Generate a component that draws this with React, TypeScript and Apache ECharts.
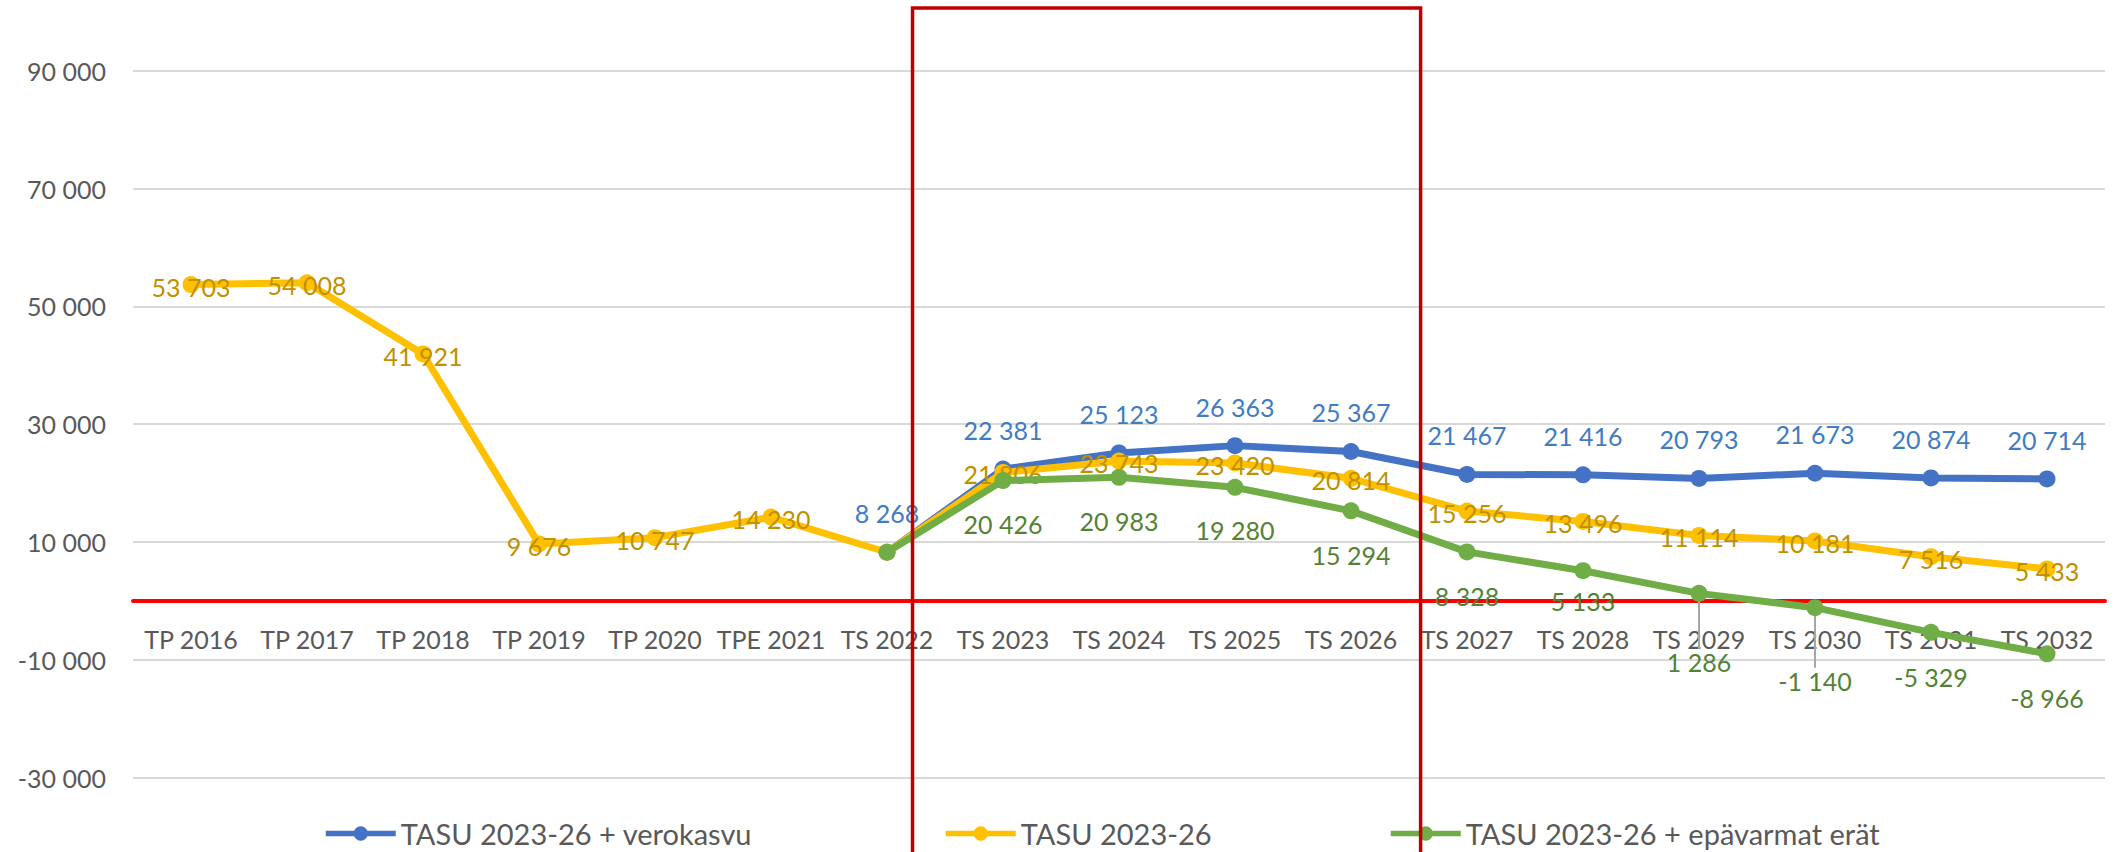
import React, { useEffect, useRef } from "react";
import * as echarts from "echarts";

const categories = [
  "TP 2016", "TP 2017", "TP 2018", "TP 2019", "TP 2020", "TPE 2021", "TS 2022",
  "TS 2023", "TS 2024", "TS 2025", "TS 2026", "TS 2027", "TS 2028", "TS 2029",
  "TS 2030", "TS 2031", "TS 2032",
];
const seriesNames = ["TASU 2023-26 + verokasvu", "TASU 2023-26", "TASU 2023-26 + epävarmat erät"];
const verokasvu = [null, null, null, null, null, null, 8268, 22381, 25123, 26363, 25367, 21467, 21416, 20793, 21673, 20874, 20714];
const tasu = [53703, 54008, 41921, 9676, 10747, 14230, 8268, 21806, 23743, 23420, 20814, 15256, 13496, 11114, 10181, 7516, 5433];
const epavarmat = [null, null, null, null, null, null, 8268, 20426, 20983, 19280, 15294, 8328, 5133, 1286, -1140, -5329, -8966];
const yMin = -30000;
const yMax = 90000;
const yInterval = 20000;

// label layout (pixel offsets of label centre from the point)
const blueLabelDy = -39;
const yellowLabelDy = 2;
const yellowHiddenLabels = [6];
const greenLabelDy = [0, 0, 0, 0, 0, 0, null, 43, 44, 43, 44, 44, 30, 69, 73, 45, 44];
const greenLeaderIdx = [13, 14];

const COLORS = ["#4472C4", "#FFC000", "#70AD47"];
const LABEL_COLORS = ["#3F7CC2", "#BF9000", "#548235"];
const FONT = "Lato, 'Open Sans', sans-serif";

const GRID = { left: 133, right: 13, top: 70.7, bottom: 74.3 };
const CHART_H = 852;

function fmt(v: number): string {
  const s = Math.abs(Math.round(v)).toString().replace(/\B(?=(\d{3})+(?!\d))/g, " ");
  return (v < 0 ? "-" : "") + s;
}

export default function App() {
  const ref = useRef<HTMLDivElement>(null);
  useEffect(() => {
    document.body.style.margin = "0";
    const el = ref.current!;
    const chart = echarts.init(el, undefined, { renderer: "svg" });

    const labelBase = {
      show: true,
      position: "inside" as const,
      fontSize: 25,
      fontFamily: FONT,
      formatter: (p: any) => fmt(p.value),
    };

    const blueData = verokasvu.map((v) =>
      v == null ? null : { value: v, label: { ...labelBase, color: LABEL_COLORS[0], offset: [0, blueLabelDy] } }
    );
    const yellowData = tasu.map((v, i) => ({
      value: v,
      label: {
        ...labelBase,
        show: !yellowHiddenLabels.includes(i),
        color: LABEL_COLORS[1],
        offset: [0, yellowLabelDy],
      },
    }));
    const greenData = epavarmat.map((v, i) =>
      v == null
        ? null
        : {
            value: v,
            label: {
              ...labelBase,
              show: greenLabelDy[i] != null,
              color: LABEL_COLORS[2],
              offset: [0, greenLabelDy[i] ?? 0],
            },
          }
    );

    const mkSeries = (i: number, data: any[]) => ({
      type: "line",
      name: seriesNames[i],
      data,
      symbol: "circle",
      symbolSize: 17,
      showSymbol: true,
      lineStyle: { color: COLORS[i], width: 7 },
      itemStyle: { color: COLORS[i] },
      emphasis: { disabled: true },
      z: 2 + i,
    });

    const legendCommon = {
      top: 819,
      padding: 0,
      itemWidth: 70,
      itemHeight: 18,
      itemGap: 0,
      textStyle: { fontSize: 29, color: "#595959", fontFamily: FONT },
      lineStyle: { width: 5.5 },
      selectedMode: false,
    };

    // y pixel of value 0 (linear y scale inside the grid)
    const gridH = CHART_H - GRID.top - GRID.bottom;
    const zeroY = GRID.top + (gridH * (yMax - 0)) / (yMax - yMin);
    const xAxisOffset = -(CHART_H - GRID.bottom - zeroY);

    chart.setOption({
      animation: false,
      textStyle: { fontFamily: FONT },
      grid: GRID,
      legend: [
        { ...legendCommon, left: 323, data: [seriesNames[0]] },
        { ...legendCommon, left: 943, data: [seriesNames[1]] },
        { ...legendCommon, left: 1388, data: [seriesNames[2]] },
      ],
      xAxis: {
        type: "category",
        data: categories,
        boundaryGap: true,
        position: "bottom",
        offset: xAxisOffset,
        axisLine: { show: true, onZero: false, lineStyle: { color: "#FF0000", width: 4 } },
        axisTick: { show: false },
        axisLabel: { fontSize: 25, color: "#595959", margin: 26, interval: 0, fontFamily: FONT },
      },
      yAxis: {
        type: "value",
        min: yMin,
        max: yMax,
        interval: yInterval,
        axisLine: { show: false },
        axisTick: { show: false },
        axisLabel: { fontSize: 25, color: "#595959", margin: 27, formatter: (v: number) => fmt(v), fontFamily: FONT },
        splitLine: { lineStyle: { color: "#D9D9D9", width: 2 } },
      },
      series: [mkSeries(0, blueData), mkSeries(1, yellowData), mkSeries(2, greenData)],
    });

    // annotations computed from axis positions
    const px = (idx: number, val: number) =>
      chart.convertToPixel({ xAxisIndex: 0, yAxisIndex: 0 }, [idx, val]) as number[];
    const p6 = px(6, 0);
    const p7 = px(7, 0);
    const p10 = px(10, 0);
    const step = p7[0] - p6[0];
    const rectLeft = p6[0] + 0.22 * step;
    const rectRight = p10[0] + 0.6 * step;

    const leaders = greenLeaderIdx.map((i) => {
      const p = px(i, epavarmat[i] as number);
      const dy = greenLabelDy[i] as number;
      return {
        type: "line",
        z: 5,
        silent: true,
        shape: { x1: p[0], y1: p[1] + 8, x2: p[0], y2: p[1] + dy - 13 },
        style: { stroke: "#A6A6A6", lineWidth: 2 },
      };
    });

    chart.setOption({
      graphic: [
        ...leaders,
        {
          type: "rect",
          z: 100,
          silent: true,
          shape: { x: rectLeft, y: 8, width: rectRight - rectLeft, height: 900 },
          style: { fill: "none", stroke: "#C00000", lineWidth: 3.5 },
        },
      ],
    });

    return () => chart.dispose();
  }, []);
  return <div ref={ref} style={{ width: 2118, height: 852 }} />;
}
